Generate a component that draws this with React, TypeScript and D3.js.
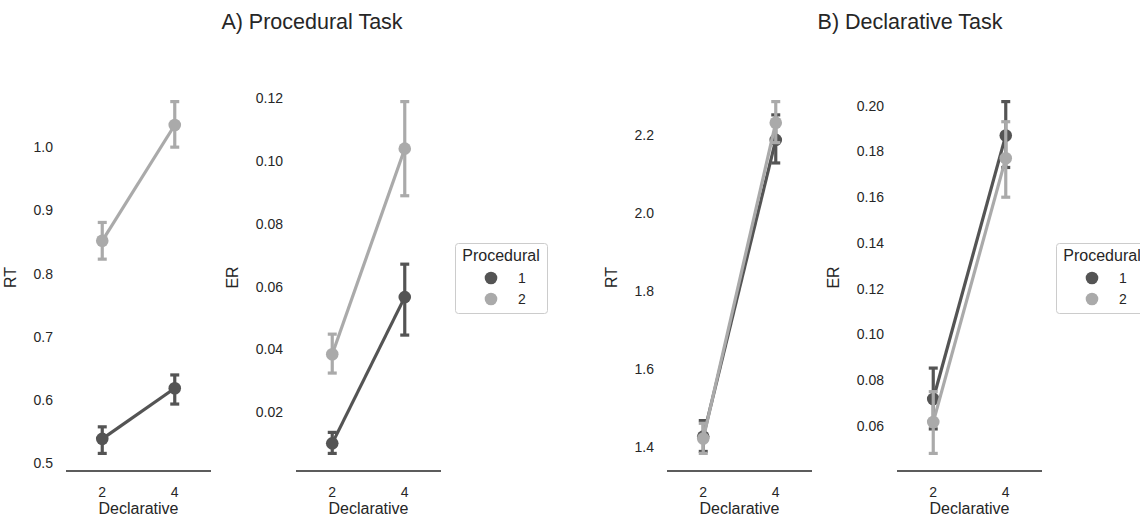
import React from "react";
import * as d3 from "d3";

// ---------- data ----------
const categories = ["2", "4"];
const hueLevels = ["1", "2"];
const hueColors = ["#545454", "#aaaaaa"];

// A) Procedural task – RT
const procRT_mean = [[0.539, 0.619], [0.852, 1.035]];
const procRT_lo = [[0.516, 0.594], [0.823, 1.0]];
const procRT_hi = [[0.558, 0.64], [0.881, 1.072]];
const procRT_ticks = [0.5, 0.6, 0.7, 0.8, 0.9, 1.0];

// A) Procedural task – ER
const procER_mean = [[0.0101, 0.0567], [0.0385, 0.104]];
const procER_lo = [[0.0069, 0.0446], [0.0325, 0.089]];
const procER_hi = [[0.0136, 0.0672], [0.0449, 0.119]];
const procER_ticks = [0.02, 0.04, 0.06, 0.08, 0.1, 0.12];

// B) Declarative task – RT
const declRT_mean = [[1.428, 2.187], [1.423, 2.231]];
const declRT_lo = [[1.39, 2.128], [1.385, 2.18]];
const declRT_hi = [[1.469, 2.251], [1.462, 2.285]];
const declRT_ticks = [1.4, 1.6, 1.8, 2.0, 2.2];

// B) Declarative task – ER
const declER_mean = [[0.0718, 0.187], [0.0617, 0.177]];
const declER_lo = [[0.0587, 0.173], [0.048, 0.16]];
const declER_hi = [[0.0853, 0.2018], [0.075, 0.193]];
const declER_ticks = [0.06, 0.08, 0.1, 0.12, 0.14, 0.16, 0.18, 0.2];

const titles = ["A) Procedural Task", "B) Declarative Task"];

// ---------- layout ----------
const W = 1140;
const H = 517;
const TOP = 84;
const BOTTOM = 471;
const FONT = "'Liberation Sans', Arial, Helvetica, sans-serif";
const TXT = "#262626";

type PanelDef = {
  x0: number; x1: number; ylabel: string;
  mean: number[][]; lo: number[][]; hi: number[][];
  ticks: number[]; fmt: string; legend: boolean;
};

const panels: PanelDef[] = [
  { x0: 66, x1: 211, ylabel: "RT", mean: procRT_mean, lo: procRT_lo, hi: procRT_hi, ticks: procRT_ticks, fmt: ".1f", legend: false },
  { x0: 296, x1: 441, ylabel: "ER", mean: procER_mean, lo: procER_lo, hi: procER_hi, ticks: procER_ticks, fmt: ".2f", legend: true },
  { x0: 667, x1: 812, ylabel: "RT", mean: declRT_mean, lo: declRT_lo, hi: declRT_hi, ticks: declRT_ticks, fmt: ".1f", legend: false },
  { x0: 897, x1: 1042, ylabel: "ER", mean: declER_mean, lo: declER_lo, hi: declER_hi, ticks: declER_ticks, fmt: ".2f", legend: true },
];

function Panel({ p }: { p: PanelDef }) {
  const x = d3.scalePoint<string>().domain(categories).range([p.x0, p.x1]).padding(0.5);
  const lo = d3.min(p.lo.flat()) as number;
  const hi = d3.max(p.hi.flat()) as number;
  const pad = (hi - lo) * 0.05;
  const y = d3.scaleLinear().domain([lo - pad, hi + pad]).range([BOTTOM, TOP]);
  const f = d3.format(p.fmt);
  const line = d3.line<number>().x((_, i) => x(categories[i]) as number).y((d) => y(d));
  const maxLabelW = d3.max(p.ticks.map((t) => f(t).length)) as number * 0.556 * 14;
  const ylabelX = p.x0 - 13 - maxLabelW - 14;
  const cap = 4.5;
  return (
    <g>
      {/* y tick labels */}
      {p.ticks.map((t) => (
        <text key={t} x={p.x0 - 13} y={y(t)} dy="0.35em" textAnchor="end" fontSize={14} fill={TXT} fontFamily={FONT}>
          {f(t)}
        </text>
      ))}
      <text transform={`translate(${ylabelX},${(TOP + BOTTOM) / 2}) rotate(-90)`} textAnchor="middle" fontSize={16} fill={TXT} fontFamily={FONT}>
        {p.ylabel}
      </text>
      {/* bottom spine */}
      <line x1={p.x0} x2={p.x1} y1={BOTTOM} y2={BOTTOM} stroke="#262626" strokeWidth={1.6} />
      {categories.map((c) => (
        <text key={c} x={x(c)} y={497} textAnchor="middle" fontSize={14} fill={TXT} fontFamily={FONT}>{c}</text>
      ))}
      <text x={(p.x0 + p.x1) / 2} y={514} textAnchor="middle" fontSize={16} fill={TXT} fontFamily={FONT}>Declarative</text>
      {/* series */}
      {hueLevels.map((h, s) => (
        <g key={h}>
          <path d={line(p.mean[s]) as string} fill="none" stroke={hueColors[s]} strokeWidth={3.2} />
          {categories.map((c, i) => {
            const cx = x(c) as number;
            return (
              <g key={c} stroke={hueColors[s]} strokeWidth={3.2}>
                <line x1={cx} x2={cx} y1={y(p.lo[s][i])} y2={y(p.hi[s][i])} />
                <line x1={cx - cap} x2={cx + cap} y1={y(p.lo[s][i])} y2={y(p.lo[s][i])} />
                <line x1={cx - cap} x2={cx + cap} y1={y(p.hi[s][i])} y2={y(p.hi[s][i])} />
              </g>
            );
          })}
          {categories.map((c, i) => (
            <circle key={c} cx={x(c)} cy={y(p.mean[s][i])} r={6.3} fill={hueColors[s]} />
          ))}
        </g>
      ))}
      {p.legend && (
        <g transform={`translate(${p.x1 + 14},243)`}>
          <rect x={0.5} y={0.5} width={92} height={70} rx={3} fill="#fff" stroke="#cccccc" strokeWidth={1} />
          <text x={46} y={18} textAnchor="middle" fontSize={16} fill={TXT} fontFamily={FONT}>Procedural</text>
          {hueLevels.map((h, s) => (
            <g key={h}>
              <circle cx={36} cy={35 + s * 21} r={6.3} fill={hueColors[s]} />
              <text x={67} y={35 + s * 21} dy="0.35em" textAnchor="middle" fontSize={14} fill={TXT} fontFamily={FONT}>{h}</text>
            </g>
          ))}
        </g>
      )}
    </g>
  );
}

export default function App() {
  return (
    <svg width={W} height={H} style={{ position: "absolute", left: 0, top: 0, background: "#fff" }}>
      <text x={312} y={29} textAnchor="middle" fontSize={21.5} fill={TXT} fontFamily={FONT}>{titles[0]}</text>
      <text x={910} y={29} textAnchor="middle" fontSize={21.5} fill={TXT} fontFamily={FONT}>{titles[1]}</text>
      {panels.map((p, i) => <Panel key={i} p={p} />)}
    </svg>
  );
}
